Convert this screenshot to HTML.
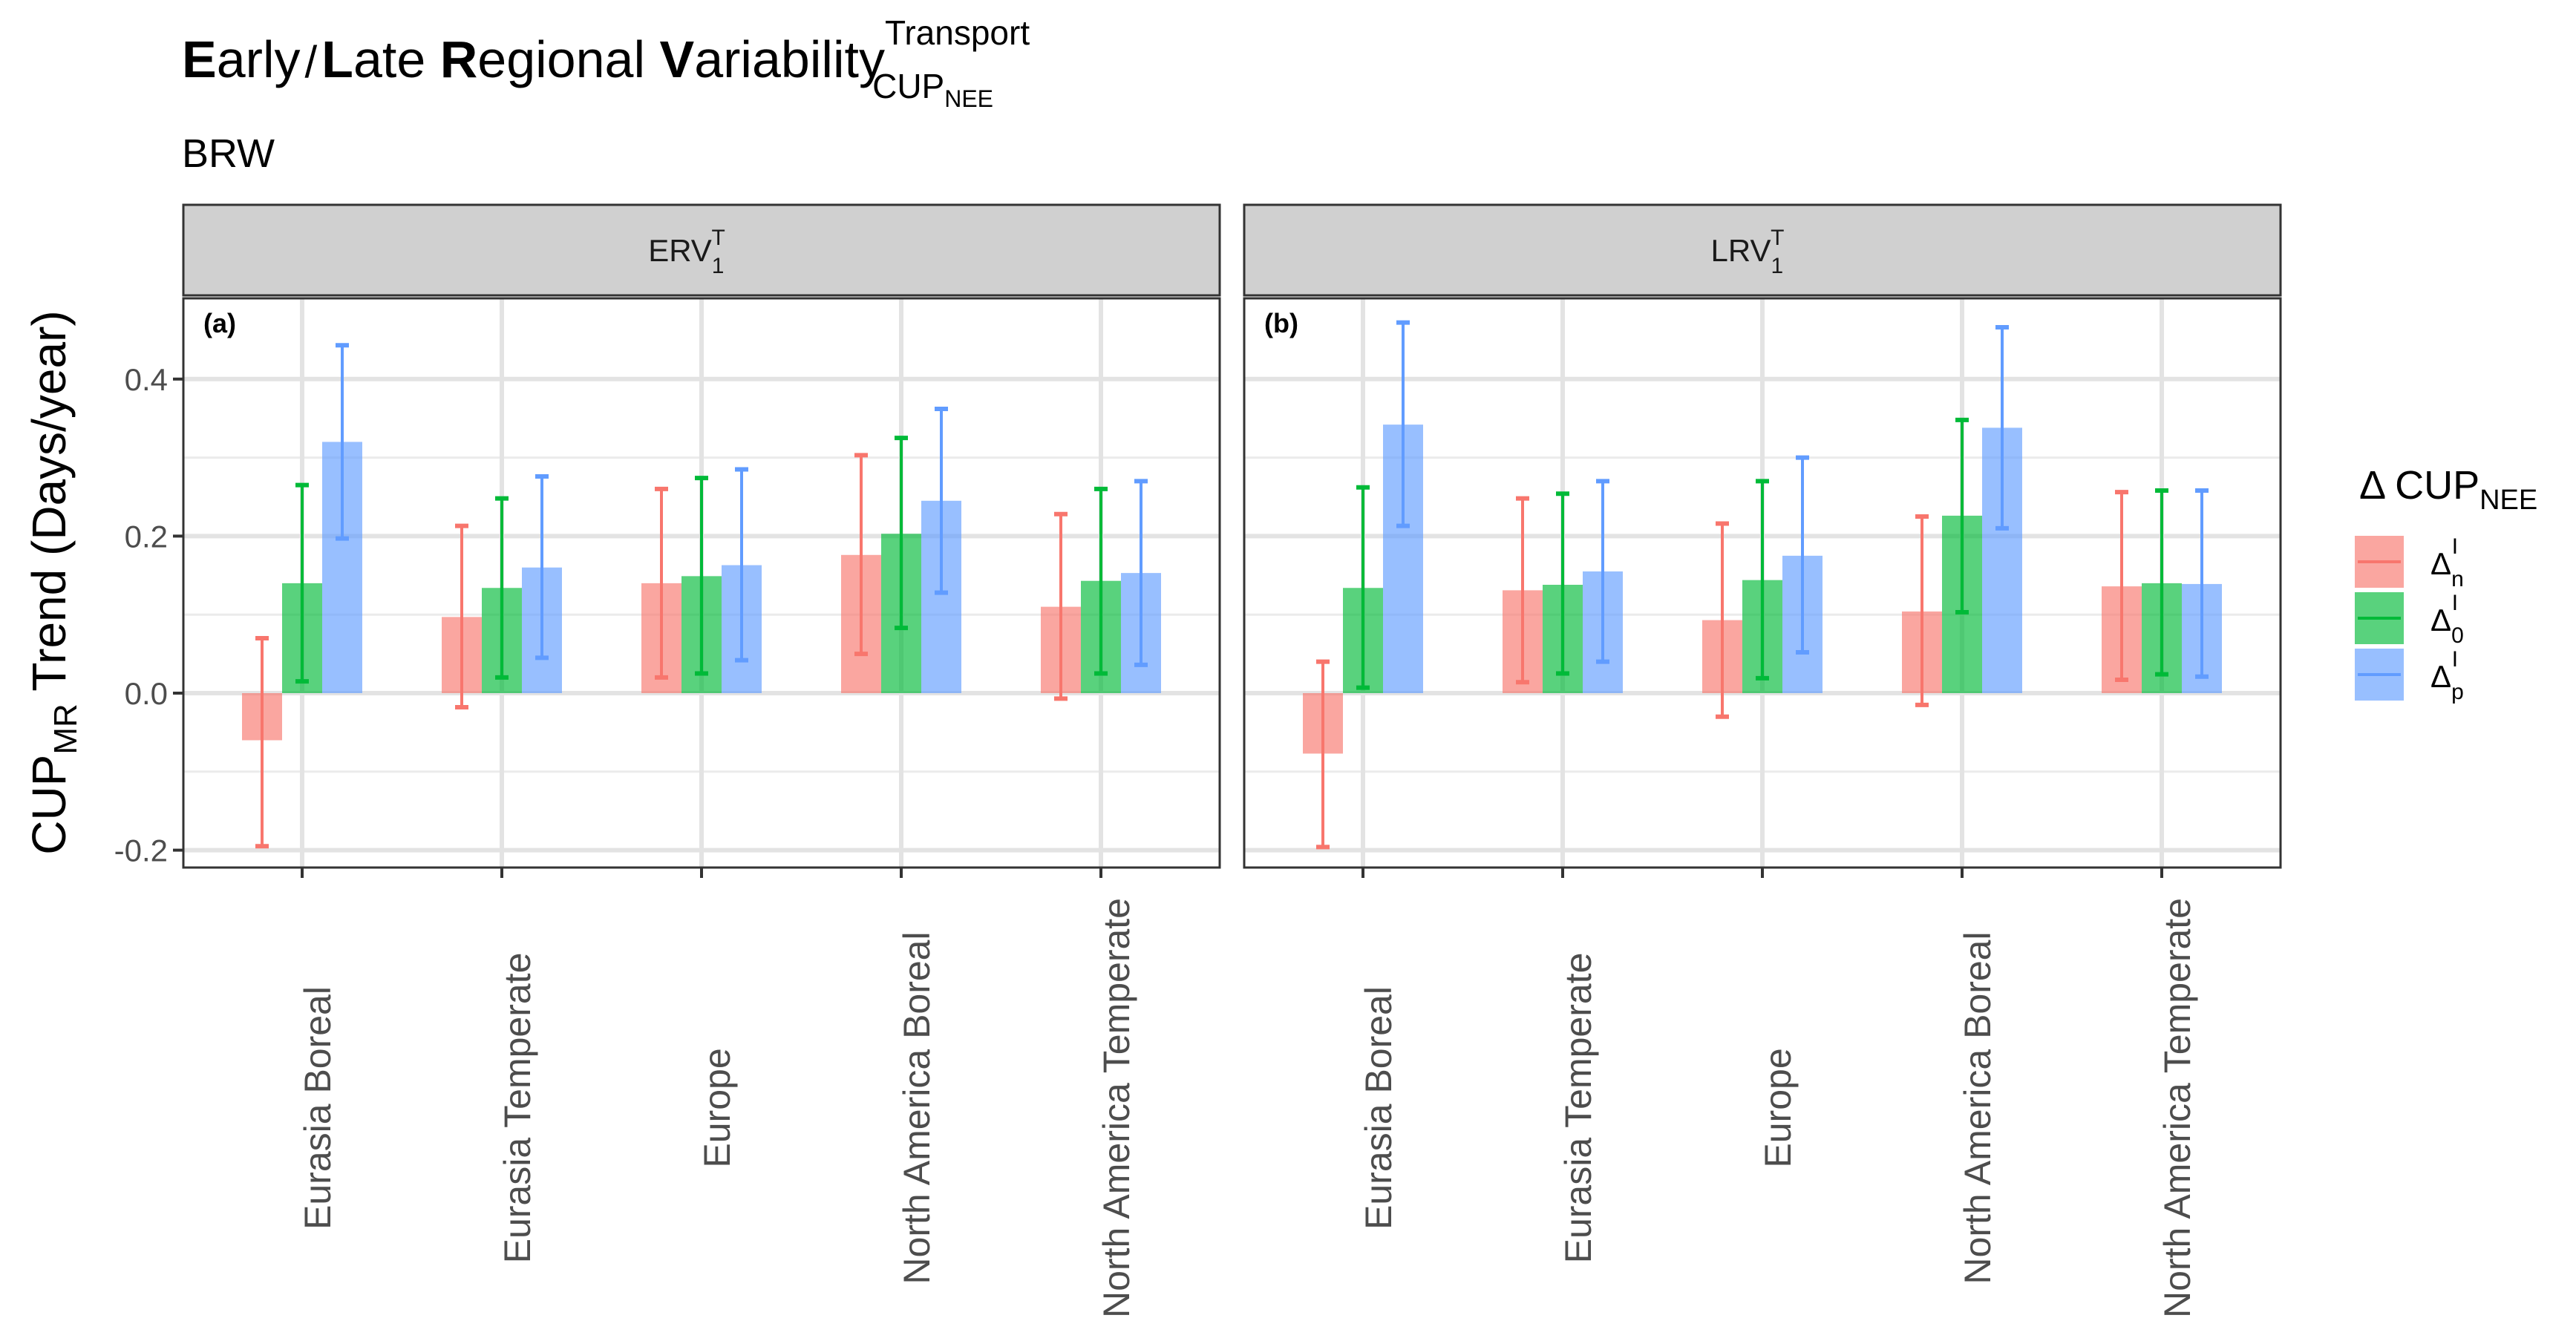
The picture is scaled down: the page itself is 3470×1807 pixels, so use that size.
<!DOCTYPE html>
<html><head><meta charset="utf-8"><style>
html,body{margin:0;padding:0;background:#fff;}
svg text{font-family:"Liberation Sans",sans-serif;}
</style></head><body>
<svg id="chart" xmlns="http://www.w3.org/2000/svg" width="3470" height="1802" viewBox="0 0 3470 1802">
<rect width="3470" height="1802" fill="#fff"/>
<text x="245" y="104" font-size="70" fill="#000"><tspan font-weight="bold">E</tspan>arly<tspan font-size="60" dx="6">/</tspan><tspan dx="6" font-weight="bold">L</tspan>ate <tspan font-weight="bold">R</tspan>egional <tspan font-weight="bold">V</tspan>ariability<tspan font-size="46" dy="-44">Transport</tspan><tspan font-size="46" dx="-212" dy="72">CUP</tspan><tspan font-size="32" dy="12">NEE</tspan></text>
<text x="245" y="225" font-size="54" fill="#000">BRW</text>
<text transform="translate(88,785) rotate(-90)" text-anchor="middle" font-size="64" fill="#000">CUP<tspan font-size="44" dy="15">MR</tspan><tspan dy="-15"> Trend (Days/year)</tspan></text>
<g id="plot"></g>
<g id="legend">
<text x="3178" y="672" font-size="54" fill="#000">Δ CUP<tspan font-size="38" dy="14">NEE</tspan></text>
</g>
</svg>
<script>
const categories = ["Eurasia Boreal","Eurasia Temperate","Europe","North America Boreal","North America Temperate"];
const panels = ["ERV","LRV"];
const panelLetters = ["(a)","(b)"];
const seriesNames = ["n","0","p"];
const colors = ["#F8766D","#00BA38","#619CFF"];
const yTicks = [-0.2,0,0.2,0.4];
const yTickLabels = ["-0.2","0.0","0.2","0.4"];
const yMinor = [-0.1,0.1,0.3];
const valsA_n = [-0.06,0.097,0.14,0.176,0.11];
const valsA_0 = [0.14,0.134,0.149,0.203,0.143];
const valsA_p = [0.32,0.16,0.163,0.245,0.153];
const lowA_n = [-0.195,-0.018,0.02,0.05,-0.007];
const lowA_0 = [0.015,0.02,0.025,0.083,0.025];
const lowA_p = [0.197,0.045,0.042,0.128,0.036];
const highA_n = [0.07,0.213,0.26,0.303,0.228];
const highA_0 = [0.265,0.248,0.274,0.325,0.26];
const highA_p = [0.443,0.276,0.285,0.362,0.27];
const valsB_n = [-0.077,0.131,0.093,0.104,0.136];
const valsB_0 = [0.134,0.138,0.144,0.226,0.14];
const valsB_p = [0.342,0.155,0.175,0.338,0.139];
const lowB_n = [-0.196,0.014,-0.03,-0.015,0.017];
const lowB_0 = [0.007,0.025,0.019,0.103,0.024];
const lowB_p = [0.213,0.04,0.052,0.21,0.021];
const highB_n = [0.04,0.248,0.216,0.225,0.256];
const highB_0 = [0.262,0.254,0.27,0.348,0.258];
const highB_p = [0.472,0.27,0.3,0.466,0.258];

const vals = [[valsA_n,valsA_0,valsA_p],[valsB_n,valsB_0,valsB_p]];
const lows = [[lowA_n,lowA_0,lowA_p],[lowB_n,lowB_0,lowB_p]];
const highs = [[highA_n,highA_0,highA_p],[highB_n,highB_0,highB_p]];

const NS="http://www.w3.org/2000/svg";
const plot=document.getElementById('plot');
function mk(tag,attrs,parent){const e=document.createElementNS(NS,tag);for(const k in attrs)e.setAttribute(k,attrs[k]);(parent||plot).appendChild(e);return e;}
const panelX=[247,1676];
const panelW=1396;
const pTop=402, pBot=1169;
const y=v=>934-v*1058;
const catStep=269, catOff=160;
const xc=(p,i)=>panelX[p]+catOff+i*catStep;
const barW=54;

for(let p=0;p<2;p++){
  const x0=panelX[p];
  const g=mk('g',{});
  
  
  const strip=mk('rect',{x:x0,y:276,width:panelW,height:122,fill:'#d0d0d0',stroke:'#333','stroke-width':3},g);
  
  
  const st=mk('text',{x:x0+panelW/2-20,y:352,'text-anchor':'middle','font-size':42,fill:'#1a1a1a'},g);
  
  
  st.innerHTML=panels[p]+'<tspan font-size="30" dy="16">1</tspan><tspan font-size="30" dx="-17" dy="-38">T</tspan>';
  mk('rect',{x:x0,y:pTop,width:panelW,height:pBot-pTop,fill:'#fff'},g);
  yMinor.forEach(v=>{const l=mk('line',{x1:x0,x2:x0+panelW,y1:y(v),y2:y(v),stroke:'#ebebeb','stroke-width':3},g);
    });
  yTicks.forEach(v=>{const l=mk('line',{x1:x0,x2:x0+panelW,y1:y(v),y2:y(v),stroke:'#e3e3e3','stroke-width':6},g);
    });
  categories.forEach((c,i)=>{const l=mk('line',{x1:xc(p,i),x2:xc(p,i),y1:pTop,y2:pBot,stroke:'#e3e3e3','stroke-width':6},g);
    });
  for(let s=0;s<3;s++){
    categories.forEach((c,i)=>{
      const v=vals[p][s][i];
      const bx=xc(p,i)+(s-1)*barW;
      const r=mk('rect',{x:bx-barW/2,y:Math.min(y(v),y(0)),width:barW,height:Math.abs(y(v)-y(0)),fill:colors[s],'fill-opacity':0.65},g);
      
      
      const eb=mk('g',{stroke:colors[s],'stroke-width':4},g);
      
      
      mk('line',{x1:bx,x2:bx,y1:y(lows[p][s][i]),y2:y(highs[p][s][i])},eb);
      mk('line',{x1:bx-9,x2:bx+9,y1:y(lows[p][s][i]),y2:y(lows[p][s][i]),'stroke-width':6},eb);
      mk('line',{x1:bx-9,x2:bx+9,y1:y(highs[p][s][i]),y2:y(highs[p][s][i]),'stroke-width':6},eb);
    });
  }
  const border=mk('rect',{x:x0,y:pTop,width:panelW,height:pBot-pTop,fill:'none',stroke:'#333','stroke-width':3},g);
  
  
  const pl=mk('text',{x:x0+27,y:448,'font-size':36,'font-weight':'bold',fill:'#000'},g);
  
  
  pl.textContent=panelLetters[p];
  categories.forEach((c,i)=>{
    mk('line',{x1:xc(p,i),x2:xc(p,i),y1:pBot,y2:pBot+14,stroke:'#333','stroke-width':4},g);
    const t=mk('text',{transform:`translate(${xc(p,i)+38},1493) rotate(-90)`,'text-anchor':'middle','font-size':50,fill:'#4d4d4d'},g);
    
    
    t.textContent=c;
  });
}
yTicks.forEach((v,i)=>{
  mk('line',{x1:233,x2:247,y1:y(v),y2:y(v),stroke:'#333','stroke-width':4});
  const t=mk('text',{x:226,y:y(v)+15,'text-anchor':'end','font-size':42,fill:'#4d4d4d'});
  
  
  t.textContent=yTickLabels[i];
});
const leg=document.getElementById('legend');
for(let s=0;s<3;s++){
  const ky=722+s*76;
  const k=mk('g',{},leg);
  
  
  mk('rect',{x:3172,y:ky,width:66,height:70,fill:colors[s],'fill-opacity':0.65},k);
  mk('line',{x1:3176,x2:3234,y1:ky+35,y2:ky+35,stroke:colors[s],'stroke-width':4},k);
  const t=mk('text',{x:3274,y:ky+52,'font-size':42,fill:'#000'},k);
  t.innerHTML='Δ<tspan font-size="30" dy="16">'+seriesNames[s]+'</tspan><tspan font-size="30" dx="-16" dy="-44">I</tspan>';
}
</script>
</body></html>
